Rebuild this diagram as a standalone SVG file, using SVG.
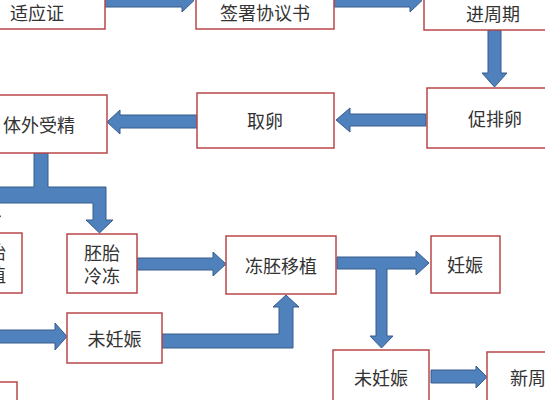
<svg xmlns="http://www.w3.org/2000/svg" width="545" height="400" viewBox="0 0 545 400">
<style>
.box{fill:#fff;stroke:#B9474A;stroke-width:1.5}
.t{font-family:"Noto Sans CJK SC","Liberation Sans",sans-serif;font-size:18px;fill:#333;text-anchor:middle;dominant-baseline:central}
.arr{fill:#4F81BD;stroke:#385D8A;stroke-width:1;stroke-linejoin:miter}
</style>
<rect width="545" height="400" fill="#fff"/>
<g id="connectors">
<path class="arr" d="M105,-6 H182 V-11 L194,0.5 L182,12 V7 H105 Z"/>
<path class="arr" d="M334,-6 H410 V-11 L422,0.5 L410,12 V7 H334 Z"/>
<path class="arr" d="M488,30 H501 V73 H507 L494.5,87 L482,73 H488 Z"/>
<path class="arr" d="M426,114 H350 V108 L336,120 L350,132 V126 H426 Z"/>
<path class="arr" d="M197,115 H120 V110 L107,122 L120,134 V128 H197 Z"/>
<path class="arr" d="M34,153 H48 V187 H106 V220 H113 L99.5,233 L86,220 H93 V203 H-30 V187 H34 Z"/>
<path class="arr" d="M-20,203 H-7 V216 H1 L-13,231 L-27,216 H-20 Z"/>
<path class="arr" d="M137,258 H213 V252 L226,264 L213,276 V270 H137 Z"/>
<path class="arr" d="M337,257 H416 V251 L429,263 L416,275 V269 H387 V336 H393 L381.5,348 L370,336 H376 V269 H337 Z"/>
<path class="arr" d="M-10,330 H55 V323 L67,336.5 L55,350 V343 H-10 Z"/>
<path class="arr" d="M162,334 H279 V307 H273 L286,295 L299,307 H293 V348 H162 Z"/>
<path class="arr" d="M431,370 H476 V366 L487,377 L476,388 V383 H431 Z"/>
</g>
<g id="n1"><rect class="box" x="-31" y="-30" width="136" height="59"/><text class="t" x="37" y="12">适应证</text></g>
<g id="n2"><rect class="box" x="196" y="-30" width="138" height="59"/><text class="t" x="265" y="12">签署协议书</text></g>
<g id="n3"><rect class="box" x="424" y="-30" width="138" height="60"/><text class="t" x="493" y="13">进周期</text></g>
<g id="n4"><rect class="box" x="427" y="88" width="136" height="60"/><text class="t" x="495" y="118">促排卵</text></g>
<g id="n5"><rect class="box" x="197" y="93" width="137" height="55"/><text class="t" x="265" y="120">取卵</text></g>
<g id="n6"><rect class="box" x="-29" y="95" width="136" height="58"/><text class="t" x="39" y="124">体外受精</text></g>
<g id="n7"><rect class="box" x="-48" y="233" width="70" height="60"/><text class="t" x="-12" y="251">胚胎<tspan x="-12" dy="23">移植</tspan></text></g>
<g id="n8"><rect class="box" x="67" y="234" width="70" height="59"/><text class="t" x="102" y="252">胚胎<tspan x="102" dy="23">冷冻</tspan></text></g>
<g id="n9"><rect class="box" x="226" y="236" width="110" height="58"/><text class="t" x="281" y="265">冻胚移植</text></g>
<g id="n10"><rect class="box" x="431" y="236" width="69" height="57"/><text class="t" x="465" y="264">妊娠</text></g>
<g id="n11"><rect class="box" x="67" y="313" width="95" height="50"/><text class="t" x="114.5" y="338">未妊娠</text></g>
<g id="n12"><rect class="box" x="333" y="350" width="96" height="60"/><text class="t" x="381" y="377">未妊娠</text></g>
<g id="n13"><rect class="box" x="487" y="352" width="100" height="60"/><text class="t" x="537" y="377">新周期</text></g>
<g id="n14"><rect class="box" x="-60" y="382" width="77" height="40"/></g>
</svg>
